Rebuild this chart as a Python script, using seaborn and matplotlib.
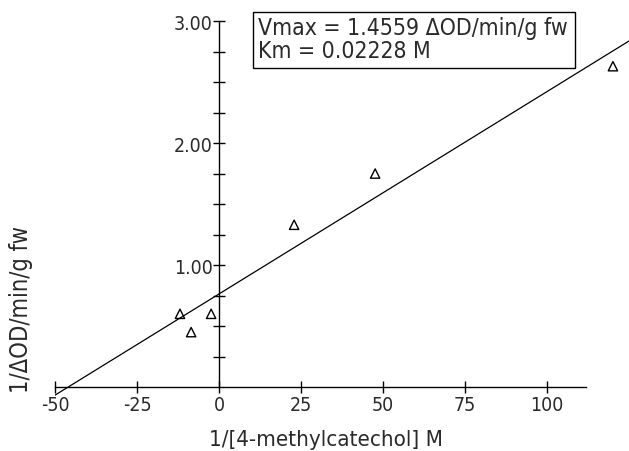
import numpy as np
import pandas as pd
import matplotlib
matplotlib.use("Agg")
import matplotlib.pyplot as plt
import seaborn as sns
from matplotlib.patches import Rectangle
from matplotlib.ticker import FixedLocator

# Lineweaver-Burk data: reciprocal substrate concentration vs reciprocal rate
inv_substrate = [-11.9, -8.5, -2.4, 22.9, 47.6, 120.1]
inv_velocity = [0.60, 0.45, 0.60, 1.33, 1.75, 2.63]

x_ticks = [-50, -25, 0, 25, 50, 75, 100]
x_tick_labels = ["-50", "-25", "0", "25", "50", "75", "100"]
y_ticks = [1.0, 2.0, 3.0]
y_tick_labels = ["1.00", "2.00", "3.00"]

vmax = 1.4559
km = 0.02228

sns.set_theme(style="white")
plt.rcParams["font.family"] = ["DejaVu Sans"]
plt.rcParams["font.weight"] = "light"
plt.rcParams["font.stretch"] = "condensed"
plt.rcParams["axes.unicode_minus"] = False

ink = "#2a2a2a"

fig = plt.figure(figsize=(6.29, 4.52), dpi=100)
fig.patch.set_facecolor("white")
ax = fig.add_axes([55 / 629, 0.0876, 574 / 629, 0.869])
ax.set_facecolor("white")
ax.set_xlim(-50, 125)
ax.set_ylim(-0.2, 3.02)

df = pd.DataFrame({"x": inv_substrate, "y": inv_velocity})
sns.regplot(
    data=df, x="x", y="y", ax=ax, ci=None, truncate=False,
    marker="^", color="black",
    scatter_kws=dict(s=45, facecolors="none", edgecolors="black",
                     linewidths=1.0, alpha=1.0, zorder=3),
    line_kws=dict(color="black", lw=0.9),
)
ax.set_xlim(-50, 125)
ax.set_ylim(-0.2, 3.02)
ax.set_xlabel("")
ax.set_ylabel("")

# Axes cross at the origin
for side in ["top", "right"]:
    ax.spines[side].set_visible(False)
ax.spines["left"].set_position(("data", 0))
ax.spines["bottom"].set_position(("data", 0))
ax.spines["left"].set_bounds(0, 3.0)
ax.spines["bottom"].set_bounds(-50, 112)
for side in ["left", "bottom"]:
    ax.spines[side].set_color("black")
    ax.spines[side].set_linewidth(1.0)

ax.set_xticks(x_ticks)
ax.set_xticklabels(x_tick_labels)
ax.set_yticks(y_ticks)
ax.set_yticklabels(y_tick_labels)
minor = [v for v in np.arange(0.25, 3.0, 0.25) if abs(v - round(v)) > 1e-6]
ax.yaxis.set_minor_locator(FixedLocator(minor))

ax.tick_params(axis="both", which="both", direction="inout", color="black",
               width=1.0, bottom=True, left=True)
ax.tick_params(axis="x", which="major", length=9, pad=1, labelsize=14,
               labelcolor=ink)
ax.tick_params(axis="y", which="major", length=9, pad=0, labelsize=14,
               labelcolor=ink)
ax.tick_params(axis="y", which="minor", length=9)

# Kinetic constants box
fig.text(258 / 629, 1 - 17 / 452,
         f"Vmax = {vmax:.4f} ΔOD/min/g fw\nKm = {km:.5f} M",
         ha="left", va="top", fontsize=16.5, linespacing=1.0, color=ink)
fig.add_artist(Rectangle((253 / 629, 1 - 69 / 452), 322 / 629, 56 / 452,
                         transform=fig.transFigure, fill=False,
                         edgecolor="black", linewidth=1.0))

# Axis titles
fig.text(326 / 629, 1 - 440 / 452, "1/[4-methylcatechol] M",
         ha="center", va="center", fontsize=16, color=ink)
fig.text(21 / 629, 1 - 310 / 452, "1/ΔOD/min/g fw", rotation=90,
         ha="center", va="center", fontsize=17, color=ink)

fig.savefig("out.png", dpi=100, facecolor="white")
